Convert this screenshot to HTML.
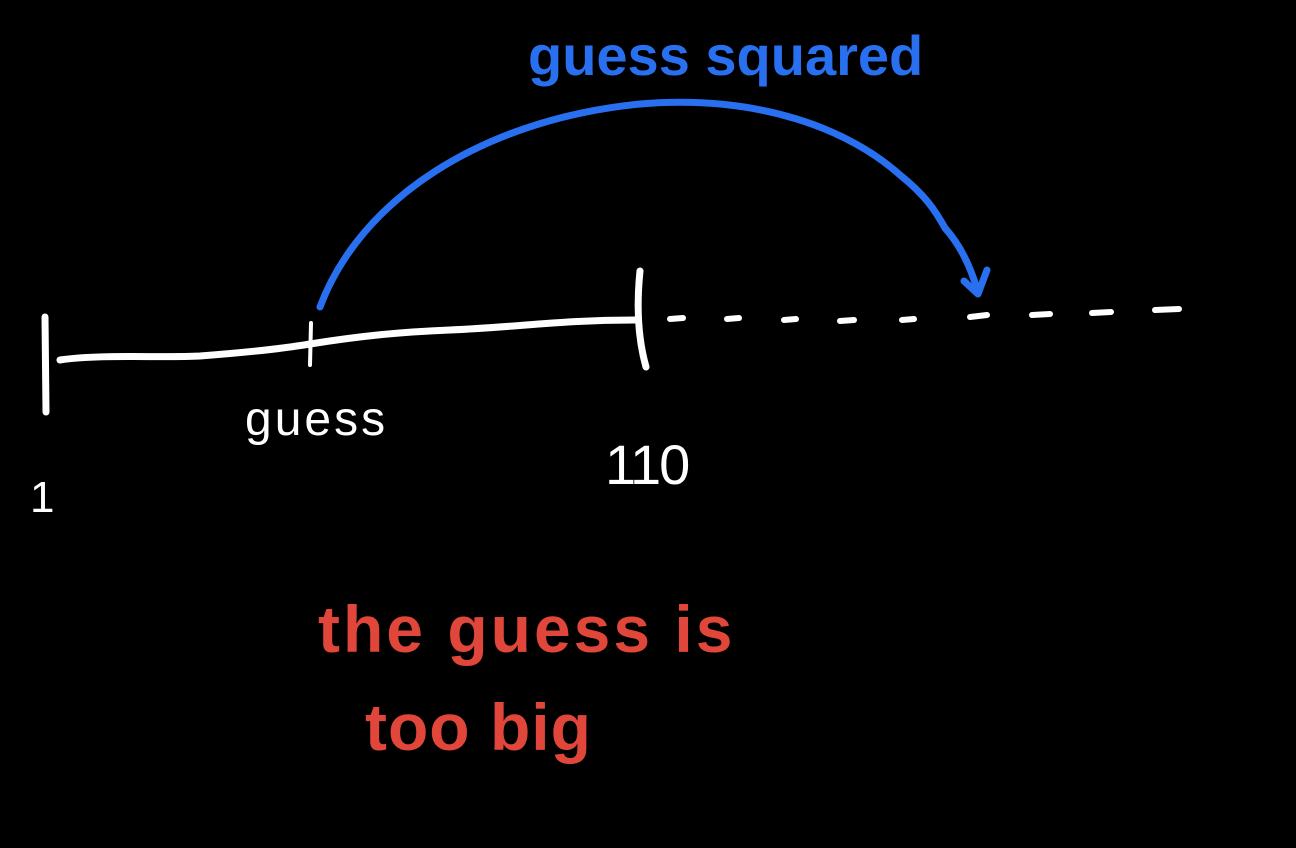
<!DOCTYPE html>
<html>
<head>
<meta charset="utf-8">
<style>
  html,body{margin:0;padding:0;background:#000;}
  svg{display:block;}
  text{font-family:"Liberation Sans","DejaVu Sans",sans-serif;}
</style>
</head>
<body>
<svg width="1296" height="848" viewBox="0 0 1296 848">
  <rect x="0" y="0" width="1296" height="848" fill="#000"/>

  <g stroke="#fff" stroke-linecap="round" fill="none">
    <path d="M45 317 L46 412" stroke-width="7"/>
    <path d="M60 360 C100 354 160 358 200 356 C240 353 280 349 310 344 C360 336 400 332 450 330 C520 327 560 320 635 320" stroke-width="7"/>
    <path d="M311 323 L310 365" stroke-width="4"/>
    <path d="M640 271 C637 300 637 335 646 367" stroke-width="7"/>
  </g>

  <g stroke="#fff" stroke-width="6" stroke-linecap="round">
    <line x1="670" y1="319" x2="683" y2="318"/>
    <line x1="727" y1="319" x2="739" y2="318"/>
    <line x1="784" y1="320" x2="796" y2="319"/>
    <line x1="840" y1="321" x2="854" y2="320"/>
    <line x1="902" y1="320" x2="914" y2="319"/>
    <line x1="970" y1="317" x2="987" y2="315"/>
    <line x1="1032" y1="315" x2="1050" y2="314"/>
    <line x1="1092" y1="313" x2="1111" y2="312"/>
    <line x1="1155" y1="310" x2="1179" y2="309"/>
  </g>

  <g stroke="#2870f0" stroke-width="7" stroke-linecap="round" stroke-linejoin="round" fill="none">
    <path d="M320 307 C360 200 480 120 640 104 C760 94 850 130 900 175 C925 195 935 210 945 228 C960 245 970 265 978 292"/>
    <path d="M964 281 L978 294 L987 270"/>
  </g>

  <text x="528" y="75" font-size="56" font-weight="bold" fill="#2870f0">guess squared</text>
  <text x="245" y="435" font-size="48" letter-spacing="3" fill="#fff">guess</text>
  <text x="30" y="512" font-size="44" fill="#fff">1</text>
  <text x="605" y="484" font-size="56" letter-spacing="-2" fill="#fff">110</text>
  <text x="318" y="652" font-size="66" font-weight="bold" letter-spacing="3" fill="#e0473a">the guess is</text>
  <text x="365" y="750" font-size="66" font-weight="bold" letter-spacing="1" fill="#e0473a">too big</text>
</svg>
</body>
</html>
